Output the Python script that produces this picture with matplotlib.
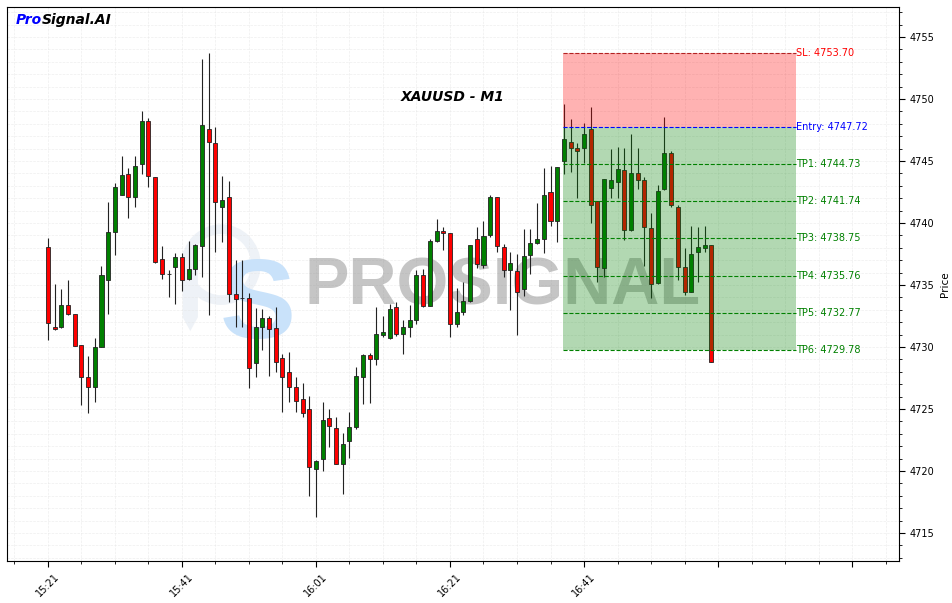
import matplotlib
matplotlib.use('Agg')
import matplotlib.pyplot as plt
from matplotlib.patches import Ellipse
from matplotlib.ticker import MultipleLocator, FuncFormatter
import numpy as np
import pandas as pd

# XAUUSD 1-minute candles, 15:21 .. 17:00
opens = [4738.04, 4731.64, 4731.59, 4733.36, 4732.64, 4730.13, 4727.55, 4726.75, 4730.00, 4735.38,
         4739.25, 4742.28, 4743.92, 4742.12, 4744.73, 4748.20, 4743.74, 4737.07, 4735.92, 4736.43,
         4737.23, 4735.51, 4736.32, 4738.17, 4747.55, 4746.42, 4741.26, 4742.07, 4734.25, 4733.99,
         4733.93, 4728.68, 4731.64, 4732.31, 4731.51, 4729.09, 4727.96, 4726.80, 4725.81, 4724.97,
         4720.13, 4720.99, 4724.25, 4723.44, 4720.54, 4722.39, 4723.52, 4727.55, 4729.33, 4729.00,
         4730.94, 4730.70, 4733.20, 4731.05, 4731.59, 4732.15, 4735.78, 4733.33, 4738.55, 4739.36,
         4739.17, 4731.85, 4732.80, 4733.71, 4738.71, 4736.61, 4739.06, 4742.07, 4738.09, 4736.21,
         4736.15, 4734.65, 4737.40, 4738.36, 4738.74, 4742.47, 4740.16, 4745.03, 4746.50, 4746.02,
         4746.02, 4747.55, 4741.75, 4736.34, 4742.85, 4743.34, 4744.25, 4739.41, 4744.00, 4743.44,
         4739.57, 4735.14, 4742.72, 4745.62, 4741.26, 4736.42, 4734.41, 4737.64, 4737.96, 4738.20]
highs = [4738.76, 4735.05, 4734.65, 4735.38, 4732.70, 4730.13, 4729.30, 4730.70, 4736.53, 4741.67,
         4743.25, 4745.40, 4744.46, 4745.40, 4749.03, 4748.44, 4743.74, 4738.17, 4736.21, 4737.55,
         4737.55, 4738.57, 4738.30, 4753.20, 4753.68, 4747.72, 4743.79, 4743.36, 4737.02, 4737.02,
         4734.33, 4733.12, 4733.09, 4732.50, 4733.25, 4729.44, 4729.57, 4727.61, 4727.07, 4726.07,
         4720.89, 4725.59, 4724.97, 4724.33, 4723.04, 4724.73, 4728.36, 4729.44, 4729.49, 4733.25,
         4732.50, 4733.44, 4733.60, 4732.18, 4733.36, 4736.21, 4736.29, 4738.70, 4740.30, 4739.65,
         4739.20, 4734.73, 4735.27, 4738.23, 4739.70, 4740.16, 4742.26, 4742.07, 4738.28, 4737.69,
         4737.50, 4739.49, 4739.52, 4741.59, 4744.41, 4744.60, 4744.50, 4749.60, 4748.36, 4746.42,
         4748.04, 4749.33, 4741.75, 4743.52, 4745.94, 4746.16, 4746.02, 4747.15, 4746.02, 4743.68,
         4740.78, 4743.07, 4748.52, 4745.81, 4741.45, 4737.96, 4739.76, 4739.70, 4739.76, 4738.20]
lows = [4730.57, 4731.37, 4731.55, 4732.55, 4730.08, 4725.32, 4724.65, 4725.54, 4730.00, 4732.64,
        4737.42, 4742.23, 4740.38, 4741.32, 4743.95, 4742.93, 4736.75, 4735.46, 4734.06, 4733.47,
        4734.54, 4735.40, 4735.78, 4735.62, 4732.56, 4737.63, 4738.44, 4733.63, 4731.64, 4731.58,
        4726.67, 4727.61, 4729.76, 4727.69, 4728.01, 4724.73, 4725.54, 4724.79, 4724.38, 4718.01,
        4716.32, 4720.00, 4721.91, 4720.54, 4718.12, 4721.02, 4723.36, 4725.38, 4725.46, 4728.55,
        4730.83, 4730.62, 4730.88, 4729.41, 4730.78, 4731.86, 4733.25, 4733.30, 4738.50, 4737.82,
        4730.78, 4731.64, 4732.58, 4733.66, 4736.35, 4736.40, 4738.90, 4737.69, 4735.67, 4732.98,
        4730.97, 4734.14, 4735.86, 4738.30, 4737.56, 4739.76, 4738.50, 4743.95, 4744.09, 4741.99,
        4744.81, 4739.97, 4735.22, 4735.68, 4741.99, 4741.99, 4738.63, 4739.38, 4742.72, 4736.53,
        4733.93, 4735.08, 4742.66, 4741.32, 4735.40, 4734.19, 4734.41, 4735.27, 4737.64, 4728.77]
closes = [4731.91, 4731.43, 4733.36, 4732.64, 4730.11, 4727.55, 4726.75, 4730.03, 4735.78, 4739.25,
          4742.88, 4743.84, 4742.12, 4744.57, 4748.20, 4743.82, 4736.83, 4735.86, 4735.88, 4737.23,
          4735.40, 4736.27, 4738.20, 4747.88, 4746.51, 4741.67, 4741.83, 4734.25, 4733.85, 4733.97,
          4728.28, 4731.59, 4732.31, 4731.43, 4728.76, 4727.55, 4726.75, 4725.67, 4724.70, 4720.35,
          4720.83, 4724.08, 4723.60, 4720.54, 4722.15, 4723.52, 4727.63, 4729.33, 4729.06, 4731.02,
          4731.21, 4733.09, 4731.05, 4731.59, 4732.15, 4735.78, 4733.33, 4738.55, 4739.36, 4739.17,
          4731.85, 4732.80, 4733.71, 4738.20, 4736.69, 4738.92, 4742.07, 4738.12, 4736.21, 4736.80,
          4734.41, 4737.37, 4738.36, 4738.74, 4742.26, 4740.16, 4744.49, 4746.75, 4746.02, 4745.78,
          4747.15, 4741.42, 4736.42, 4743.52, 4743.47, 4744.33, 4739.46, 4744.00, 4743.44, 4739.70,
          4735.05, 4742.55, 4745.62, 4741.42, 4736.42, 4734.41, 4737.47, 4738.04, 4738.20, 4728.77]
times = pd.date_range('2024-01-01 15:21', periods=len(opens), freq='1min').strftime('%H:%M')

# signal levels
entry = 4747.72
sl = 4753.70
tp_names = ['TP1', 'TP2', 'TP3', 'TP4', 'TP5', 'TP6']
tp_levels = [4744.73, 4741.74, 4738.75, 4735.76, 4732.77, 4729.78]
zone_start = 76.8
zone_end = 111.6

opens = np.array(opens)
closes = np.array(closes)
x = np.arange(len(opens))

fig = plt.figure(figsize=(9.53, 6.03), dpi=100)
ax = fig.add_axes([7 / 953, 42 / 603, 892 / 953, 554 / 603])

# watermark (logo + name)
ax.add_patch(Ellipse((0.240, 0.535), 0.078, 0.128, transform=ax.transAxes, fill=False,
                     ec='#eef2f7', lw=7, zorder=0.5))
ax.add_patch(plt.Polygon([[0.197, 0.56], [0.214, 0.56], [0.214, 0.44], [0.2055, 0.415], [0.197, 0.44]],
                         closed=True, transform=ax.transAxes, fc='#eef2f7', ec='none', zorder=0.5))
ax.text(0.281, 0.455, 'S', transform=ax.transAxes, ha='center', va='center', fontsize=82,
        fontweight='bold', family='Liberation Sans', color='#c9e2fa', zorder=0.6)
ax.text(0.556, 0.493, 'PROSIGNAL', transform=ax.transAxes, ha='center', va='center', fontsize=48,
        fontweight='bold', family='Liberation Sans', color='grey', alpha=0.45, zorder=0.7)

# candles
colors = np.where(closes >= opens, 'green', 'red')
ax.vlines(x, lows, highs, color='#222222', lw=0.8, zorder=2)
ax.bar(x, np.abs(closes - opens), bottom=np.minimum(opens, closes), width=0.6,
       color=colors, edgecolor='#222222', linewidth=0.6, zorder=3)

# risk / reward zones
ax.fill_between([zone_start, zone_end], entry, sl, color='red', alpha=0.3, lw=0, zorder=4)
ax.fill_between([zone_start, zone_end], tp_levels[-1], entry, color='green', alpha=0.3, lw=0, zorder=4)
ax.hlines(sl, zone_start, zone_end, colors='#b22222', linestyles='--', lw=0.8, zorder=5)
ax.hlines(entry, zone_start, zone_end, colors='blue', linestyles='--', lw=0.8, zorder=5)
ax.hlines(tp_levels, zone_start, zone_end, colors='green', linestyles='--', lw=0.8, zorder=5)
ax.text(zone_end, sl, 'SL: %.2f' % sl, color='red', fontsize=7, va='center', ha='left')
ax.text(zone_end, entry, 'Entry: %.2f' % entry, color='blue', fontsize=7, va='center', ha='left')
for name, lvl in zip(tp_names, tp_levels):
    ax.text(zone_end, lvl, '%s: %.2f' % (name, lvl), color='green', fontsize=7, va='center', ha='left')

ax.text(0.5, 0.838, 'XAUUSD - M1', transform=ax.transAxes, ha='center', va='center',
        fontsize=10, fontweight='bold', fontstyle='italic')
t1 = fig.text(16 / 953, 1 - 24 / 603, 'Pro', color='blue', fontsize=10, fontweight='bold',
              fontstyle='italic')
ax.annotate('Signal.AI', xy=(1, 0), xycoords=t1, va='bottom', ha='left', color='black',
            fontsize=10, fontweight='bold', fontstyle='italic')

# axes
ax.set_xlim(-6.1, 127)
ax.set_ylim(4712.74, 4757.42)
ax.xaxis.set_major_locator(MultipleLocator(20))
ax.xaxis.set_minor_locator(MultipleLocator(5))
ax.xaxis.set_major_formatter(FuncFormatter(
    lambda v, p: times[int(round(v))] if 0 <= int(round(v)) < len(times) else ''))
ax.yaxis.set_major_locator(MultipleLocator(5))
ax.yaxis.set_minor_locator(MultipleLocator(1))
ax.yaxis.tick_right()
ax.yaxis.set_label_position('right')
ax.set_ylabel('Price', fontsize=7.5)
ax.tick_params(axis='both', which='major', labelsize=7, length=4)
ax.tick_params(axis='both', which='minor', length=2)
plt.setp(ax.get_xticklabels(), rotation=45)
ax.grid(True, which='both', linestyle='--', linewidth=0.5, color='#e4e4e4', alpha=0.6)
ax.set_axisbelow(True)

fig.savefig('out.png', dpi=100)
